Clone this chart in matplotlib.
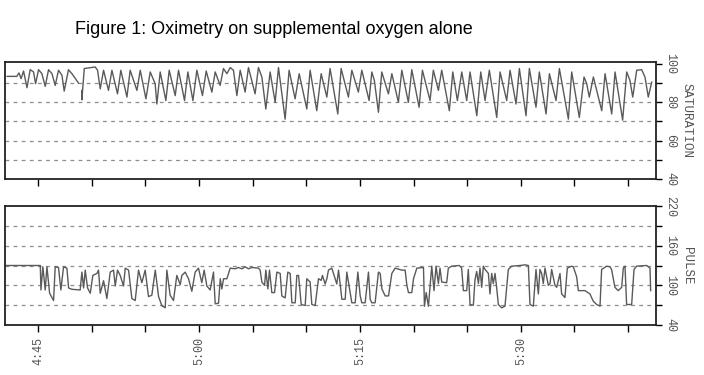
import numpy as np
import matplotlib.pyplot as plt

nan = float("nan")

# time in minutes after 4:45
sat = [(-2.9, 93.5), (-2.0, 93.5), (-1.8, 95.3), (-1.6, 92.3), (-1.37, 96.3), (-1.05, 87.6),
       (-0.75, 97.0), (-0.44, 95.8), (-0.25, 89.7), (0.03, 97.0), (0.34, 94.9), (0.65, 88.3),
       (0.96, 97.0), (1.28, 94.9), (1.58, 88.8), (1.89, 96.7), (2.21, 94.1), (2.42, 85.8),
       (2.82, 97.0), (3.14, 94.9), (3.76, 90.0), (nan, nan),
       (4.07, 86.2), (4.07, 81.3), (4.29, 97.6), (5.31, 98.4), (5.53, 96.7), (5.78, 87.0),
       (6.09, 96.7), (6.55, 86.2), (6.87, 96.7), (7.39, 84.4), (7.7, 96.7), (8.27, 82.7),
       (8.57, 96.7), (9.2, 86.2), (9.51, 96.7), (10.04, 81.8), (10.44, 95.8), (10.9, 89.7),
       (11.06, 79.1), (11.37, 95.8), (11.9, 80.9), (12.21, 96.7), (12.77, 83.5), (13.08, 96.7),
       (13.64, 80.9), (13.95, 95.8), (14.42, 80.9), (14.79, 96.7), (15.31, 83.5), (15.66, 96.3),
       (16.19, 85.3), (16.5, 95.8), (16.96, 88.8), (17.27, 97.6), (17.59, 94.9), (17.9, 98.1),
       (18.2, 96.7), (18.52, 83.5), (18.83, 96.7), (19.29, 85.3), (19.6, 98.1), (20.22, 84.4),
       (20.53, 98.1), (20.85, 93.2), (21.22, 76.5), (21.62, 95.8), (22.09, 80.0), (22.4, 98.1),
       (23.02, 71.2), (23.39, 96.7), (23.95, 81.8), (24.33, 94.9), (25.04, 76.5), (25.35, 96.7),
       (25.97, 75.6), (26.38, 94.9), (26.91, 82.7), (27.21, 97.6), (27.93, 73.9), (28.24, 97.6),
       (28.92, 82.7), (29.24, 96.7), (29.85, 85.3), (30.17, 96.7), (30.85, 80.9), (31.1, 95.8),
       (31.34, 91.4), (31.72, 74.8), (32.03, 95.8), (32.65, 84.4), (32.97, 94.9), (33.58, 80.0),
       (33.9, 96.7), (34.51, 80.0), (34.83, 97.0), (35.51, 77.4), (35.82, 96.7), (36.53, 80.9),
       (36.84, 96.7), (37.31, 86.2), (37.62, 96.7), (38.33, 75.6), (38.65, 95.8), (39.08, 80.9),
       (39.49, 95.8), (39.95, 80.9), (40.26, 95.8), (40.89, 73.0), (41.26, 95.8), (41.66, 80.9),
       (42.06, 96.7), (42.75, 72.1), (43.06, 95.8), (43.68, 80.9), (43.99, 96.7), (44.55, 79.1),
       (44.86, 97.6), (45.48, 73.0), (45.79, 97.6), (46.41, 77.4), (46.72, 95.8), (47.35, 73.9),
       (47.66, 94.9), (48.28, 80.9), (48.59, 97.6), (49.43, 71.2), (49.74, 95.8), (50.45, 72.1),
       (50.89, 93.2), (51.14, 89.7), (51.38, 82.7), (51.76, 93.2), (52.54, 75.6), (52.85, 94.9),
       (53.47, 73.9), (53.78, 95.8), (54.49, 70.7), (54.87, 95.8), (55.17, 91.4), (55.43, 82.7),
       (55.8, 96.7), (56.26, 97.0), (56.57, 93.2), (56.88, 82.7), (57.2, 90.5)]

pulse = [(-3.0, 130), (0.19, 130), (0.25, 93), (0.43, 128), (0.65, 93), (0.81, 128), (1.06, 88),
         (1.43, 77), (1.58, 128), (1.89, 127), (2.11, 93), (2.36, 128), (2.67, 126), (2.83, 96),
         (3.14, 94), (3.91, 93), (4.07, 120), (4.23, 96), (4.38, 123), (4.6, 96), (4.85, 88),
         (5.09, 115), (5.47, 118), (5.62, 123), (5.78, 88), (6.09, 107), (6.4, 80), (6.71, 120),
         (7.02, 123), (7.18, 99), (7.39, 123), (7.64, 115), (7.95, 99), (8.11, 126), (8.42, 123),
         (8.73, 80), (9.04, 77), (9.35, 123), (9.66, 104), (9.97, 123), (10.28, 83), (10.59, 85),
         (10.91, 123), (11.22, 83), (11.53, 69), (11.84, 66), (11.99, 123), (12.3, 85), (12.61, 77),
         (12.92, 115), (13.24, 101), (13.39, 115), (13.7, 120), (14.01, 110), (14.32, 91),
         (14.63, 120), (14.94, 126), (15.25, 104), (15.47, 123), (15.72, 99), (16.03, 93),
         (16.34, 120), (16.5, 72), (16.81, 73), (16.97, 110), (17.12, 94.5), (17.28, 110),
         (17.59, 110), (17.9, 126), (18.36, 125), (18.67, 127), (18.99, 125), (19.3, 128),
         (19.61, 125), (19.92, 127), (20.54, 126), (20.69, 123), (20.85, 105), (21.1, 100),
         (21.22, 123), (21.41, 94.5), (21.56, 123), (21.78, 89), (22.03, 89), (22.25, 120),
         (22.56, 118), (22.71, 84), (23.02, 81), (23.27, 120), (23.49, 118), (23.65, 73.6),
         (23.96, 73.6), (24.11, 115), (24.27, 115), (24.52, 71), (24.89, 69.5), (25.04, 110),
         (25.35, 105), (25.51, 71), (25.82, 69.5), (26.13, 110), (26.38, 107.5), (26.5, 115),
         (26.75, 102), (26.91, 110), (27.06, 123), (27.37, 126), (27.53, 118), (27.84, 102),
         (28.0, 123), (28.15, 102), (28.31, 79), (28.62, 79), (28.77, 120), (29.08, 89),
         (29.24, 73.6), (29.55, 73.6), (29.8, 120), (30.02, 84), (30.17, 73.6), (30.48, 73.6),
         (30.79, 120), (30.95, 79), (31.1, 73.6), (31.41, 73.6), (31.72, 120), (31.88, 118),
         (32.04, 94.5), (32.35, 84), (32.66, 84), (32.97, 118), (33.28, 126), (33.9, 123),
         (34.21, 123), (34.37, 100), (34.52, 89), (34.83, 89), (34.99, 110), (35.3, 126),
         (35.92, 127), (36.01, 68.4), (36.17, 89), (36.38, 68.4), (36.53, 97), (36.69, 129),
         (36.9, 92), (37.09, 129), (37.31, 102.7), (37.46, 126), (37.62, 105), (38.08, 104),
         (38.24, 126), (38.55, 129), (39.26, 130), (39.48, 126), (39.64, 92), (39.95, 92),
         (40.1, 124), (40.26, 71), (40.57, 70), (40.72, 108), (40.88, 121), (41.04, 102.7),
         (41.19, 126), (41.35, 97), (41.5, 129), (41.66, 124), (41.97, 118), (42.12, 87),
         (42.28, 118), (42.43, 102.7), (42.59, 118), (42.74, 97), (42.9, 71), (43.21, 66),
         (43.52, 68.5), (43.83, 124), (44.14, 129), (44.92, 130), (45.38, 131), (45.7, 130),
         (45.85, 71), (46.16, 68.5), (46.41, 124), (46.63, 87), (46.78, 124), (46.94, 118),
         (47.09, 102.7), (47.25, 126), (47.56, 100), (47.72, 102.7), (47.87, 124), (48.18, 100),
         (48.34, 97), (48.65, 118), (48.8, 87), (49.11, 81.6), (49.33, 126), (49.73, 129),
         (49.89, 128), (50.2, 113), (50.36, 92), (50.98, 92), (51.44, 87), (51.75, 76),
         (52.07, 71), (52.38, 68.5), (52.53, 124), (53.0, 129), (53.31, 128), (53.46, 124),
         (53.77, 97), (54.08, 92), (54.4, 97), (54.55, 126), (54.71, 129), (54.86, 71),
         (55.33, 71), (55.55, 124), (55.79, 129), (56.73, 130), (57.04, 126), (57.1, 92)]

time_ticks = [0, 15, 30, 45]
time_labels = ["4:45", "5:00", "5:15", "5:30"]
minor_ticks = [5, 10, 20, 25, 35, 40, 50, 55]

sat_ticks = [40, 50, 60, 70, 80, 90, 100]
sat_labels = ["40", "", "60", "", "80", "", "100"]
sat_grid = [50, 60, 70, 80, 90]

pulse_ticks = [40, 70, 100, 130, 160, 190, 220]
pulse_labels = ["40", "", "100", "", "160", "", "220"]
pulse_grid = [70, 100, 130, 160, 190]

mono = "Liberation Mono"
trace_col = "#5a5a5a"
grid_col = "#8c8c8c"
lab_col = "#555555"

fig = plt.figure(figsize=(7.04, 3.75), dpi=100)
fig.text(75 / 704, 1 - 30 / 375, "Figure 1: Oximetry on supplemental oxygen alone",
         family="Liberation Sans", fontsize=13, va="center", ha="left")

ax1 = fig.add_axes([5 / 704, 1 - 179 / 375, 651 / 704, 117 / 375])
ax2 = fig.add_axes([5 / 704, 1 - 325 / 375, 651 / 704, 119 / 375])


def style(ax, data, grid, ticks, labels, ylim, name):
    t = [p[0] for p in data]
    v = [p[1] for p in data]
    for g in grid:
        ax.axhline(g, color=grid_col, lw=0.9, ls=(0, (3, 3.5)), zorder=1)
    ax.plot(t, v, color=trace_col, lw=1.0, zorder=2)
    ax.set_xlim(-3.1, 57.6)
    ax.set_ylim(*ylim)
    ax.yaxis.tick_right()
    ax.set_yticks(ticks)
    ax.set_yticklabels(labels, rotation=270, family=mono, fontsize=8.5, color=lab_col,
                       va="center", ha="left")
    ax.tick_params(axis="y", direction="out", length=4, width=1, pad=2)
    ax.set_xticks(time_ticks)
    ax.set_xticks(minor_ticks, minor=True)
    ax.tick_params(axis="x", which="both", direction="out", length=5, width=1)
    for s in ax.spines.values():
        s.set_linewidth(1.3)
        s.set_color("#222222")
    ax.text(1.047, 0.5, name, transform=ax.transAxes, rotation=270, family=mono,
            fontsize=9, color=lab_col, ha="center", va="center")


style(ax1, sat, sat_grid, sat_ticks, sat_labels, (40, 101), "SATURATION")
style(ax2, pulse, pulse_grid, pulse_ticks, pulse_labels, (40, 220), "PULSE")
ax1.set_xticklabels([])
ax2.set_xticklabels(time_labels, rotation=90, family=mono, fontsize=8.5, color=lab_col)

fig.savefig("out.png", dpi=100)
